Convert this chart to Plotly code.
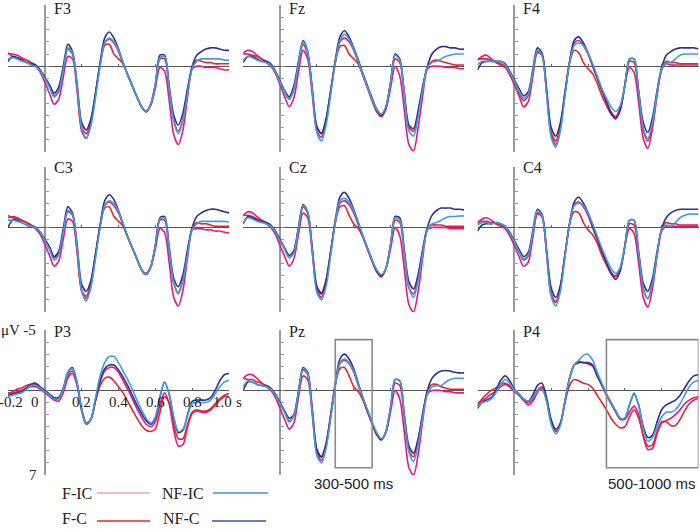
import plotly.graph_objects as go

W, H = 700, 529

# time axis (s), 25 ms sampling
time = [-0.2, -0.175, -0.15, -0.125, -0.1, -0.075, -0.05, -0.025, 0.0, 0.025,
        0.05, 0.075, 0.1, 0.125, 0.15, 0.175, 0.2, 0.225, 0.25, 0.275,
        0.3, 0.325, 0.35, 0.375, 0.4, 0.425, 0.45, 0.475, 0.5, 0.525,
        0.55, 0.575, 0.6, 0.625, 0.65, 0.675, 0.7, 0.725, 0.75, 0.775,
        0.8, 0.825, 0.85, 0.875, 0.9, 0.925, 0.95, 0.975, 1.0]

channels = ['F3', 'Fz', 'F4', 'C3', 'Cz', 'C4', 'P3', 'Pz', 'P4']
conditions = ['F-IC', 'F-C', 'NF-C', 'NF-IC']   # drawing order

# amplitudes in microvolts (negative plotted upward)
f3_fic = [-1.0,-1.0,-0.9,-0.7,-0.5,-0.3,0.0,0.5,1.3,2.2,3.1,2.7,0.9,-0.8,-0.6,2.0,5.3,5.9,4.6,2.3,-0.2,-1.9,-2.2,-1.9,-1.2,-0.2,0.7,1.6,2.5,3.3,3.7,3.2,1.8,0.1,0.4,2.8,5.6,6.4,5.2,2.5,0.2,0.0,0.0,0.1,0.1,0.1,0.2,0.3,0.3]
f3_fc = [-1.1,-0.8,-0.7,-0.6,-0.5,-0.3,-0.1,0.4,1.0,1.6,2.4,2.0,0.3,-1.4,-1.0,1.7,5.0,5.5,4.5,2.3,-0.1,-1.7,-1.8,-1.0,-0.6,-0.2,0.7,1.6,2.5,3.3,3.7,3.1,1.5,-0.6,-0.6,1.8,4.4,5.3,4.3,2.1,0.1,-0.5,-0.4,-0.3,-0.3,-0.2,-0.2,-0.2,-0.2]
f3_nfc = [-0.4,-0.8,-0.7,-0.5,-0.3,-0.2,-0.1,0.3,0.9,1.5,2.2,1.7,0.0,-1.8,-1.2,1.4,4.6,5.2,4.3,2.2,-0.3,-2.3,-2.8,-2.3,-1.4,-0.3,0.7,1.6,2.5,3.3,3.7,3.1,1.5,-0.9,-0.9,1.6,4.0,4.8,3.8,1.8,0.0,-0.9,-1.2,-1.4,-1.5,-1.5,-1.4,-1.3,-1.3]
f3_nfic = [-0.6,-0.7,-0.6,-0.4,-0.3,-0.1,0.0,0.4,1.0,1.7,2.5,2.1,0.3,-1.5,-1.1,1.6,5.0,5.9,4.9,2.6,0.0,-1.9,-2.3,-2.0,-1.3,-0.3,0.7,1.6,2.5,3.3,3.7,3.1,1.5,-0.7,-0.8,1.8,4.5,5.5,4.4,2.2,0.2,-0.4,-0.6,-0.6,-0.6,-0.6,-0.6,-0.5,-0.5]

fz_fic = [-1.1,-1.3,-1.2,-0.9,-0.6,-0.3,0.0,0.6,1.5,2.5,3.3,2.6,0.5,-1.3,-0.6,2.3,5.3,5.8,4.5,2.1,-0.3,-2.0,-2.3,-2.0,-1.3,-0.3,0.8,1.8,2.8,3.7,4.1,3.5,1.8,0.0,0.8,3.6,6.4,6.9,5.0,2.4,0.2,0.0,0.0,0.0,0.1,0.1,0.1,0.2,0.2]
fz_fc = [-1.0,-1.0,-0.9,-0.8,-0.6,-0.4,-0.1,0.5,1.3,2.1,2.7,1.9,-0.1,-1.8,-1.0,2.0,5.0,5.5,4.3,2.0,-0.3,-1.6,-1.7,-1.0,-0.6,-0.2,0.7,1.7,2.8,3.7,4.1,3.4,1.4,-0.6,-0.3,2.3,5.0,5.3,3.8,1.8,0.1,-0.4,-0.5,-0.4,-0.3,-0.2,-0.1,-0.1,-0.1]
fz_nfc = [-0.3,-0.8,-0.8,-0.6,-0.4,-0.4,-0.2,0.4,1.2,2.0,2.5,1.6,-0.4,-2.1,-1.2,1.8,4.9,5.5,4.3,2.0,-0.5,-2.4,-2.9,-2.4,-1.5,-0.5,0.6,1.6,2.6,3.5,4.0,3.3,1.3,-1.0,-0.6,2.2,4.8,5.1,3.6,1.6,0.0,-1.0,-1.4,-1.6,-1.6,-1.5,-1.5,-1.4,-1.4]
fz_nfic = [-0.5,-0.8,-0.7,-0.5,-0.4,-0.3,-0.1,0.5,1.3,2.1,2.7,1.9,-0.2,-2.0,-1.1,2.0,5.4,6.1,4.8,2.3,-0.3,-2.1,-2.6,-2.2,-1.4,-0.4,0.7,1.7,2.7,3.5,3.9,3.3,1.4,-0.9,-0.5,2.4,5.3,5.7,4.1,1.9,0.1,-0.3,-0.4,-0.6,-0.8,-0.9,-1.0,-1.0,-1.0]

f4_fic = [-0.5,-0.8,-0.9,-0.6,-0.3,-0.1,0.1,0.7,1.5,2.4,3.3,2.9,0.9,-1.1,-0.9,2.2,5.6,6.4,5.1,2.3,-0.3,-1.9,-2.1,-1.7,-1.0,0.0,1.0,2.0,2.9,3.7,4.1,3.4,1.6,0.1,0.5,3.0,5.9,6.7,5.1,2.4,0.3,-0.2,-0.1,-0.1,-0.1,-0.1,-0.1,-0.1,-0.1]
f4_fc = [-0.6,-0.6,-0.6,-0.5,-0.4,-0.2,0.0,0.6,1.3,2.1,2.8,2.4,0.6,-1.2,-0.9,2.0,5.4,6.1,4.8,2.2,-0.3,-1.3,-1.1,-0.3,0.2,0.6,1.4,2.4,3.2,3.9,4.2,3.5,1.5,-0.4,-0.3,2.3,5.2,6.1,4.7,2.2,0.2,-0.4,-0.3,-0.3,-0.2,-0.2,-0.2,-0.2,-0.2]
f4_nfc = [0.3,-0.3,-0.4,-0.4,-0.4,-0.4,-0.2,0.4,1.1,1.8,2.4,2.1,0.3,-1.5,-1.1,1.8,5.0,5.7,4.6,2.1,-0.4,-2.1,-2.4,-1.9,-1.1,-0.1,0.9,1.9,2.9,3.8,4.3,3.6,1.6,-0.6,-0.6,2.0,4.6,5.4,4.2,2.0,0.1,-0.9,-1.2,-1.4,-1.5,-1.5,-1.5,-1.5,-1.4]
f4_nfic = [-0.1,-0.4,-0.4,-0.4,-0.4,-0.4,-0.1,0.5,1.2,2.0,2.6,2.3,0.5,-1.3,-0.9,2.2,5.8,6.6,5.3,2.4,-0.3,-1.7,-1.9,-1.7,-1.1,-0.2,0.8,1.8,2.6,3.3,3.7,3.2,1.6,-0.6,-0.6,2.1,5.0,5.9,4.6,2.2,0.2,-0.3,-0.3,-0.6,-0.9,-1.0,-1.0,-1.0,-1.0]

c3_fic = [-0.8,-0.9,-0.8,-0.6,-0.4,-0.2,0.1,0.6,1.4,2.3,3.2,2.8,1.0,-0.7,-0.5,2.0,5.3,5.9,4.7,2.3,-0.1,-1.8,-2.1,-1.8,-1.2,-0.2,0.8,1.7,2.6,3.5,3.9,3.3,1.8,0.1,0.4,2.9,5.8,6.5,5.2,2.5,0.2,0.1,0.1,0.2,0.2,0.3,0.3,0.4,0.45]
c3_fc = [-1.0,-0.8,-0.7,-0.6,-0.4,-0.2,0.0,0.4,1.0,1.7,2.5,2.1,0.3,-1.3,-1.0,1.8,5.2,5.7,4.6,2.3,-0.1,-1.6,-1.7,-0.9,-0.5,-0.1,0.8,1.7,2.6,3.5,3.8,3.2,1.5,-0.6,-0.6,1.9,4.6,5.4,4.3,2.1,0.1,-0.4,-0.3,-0.3,-0.2,-0.1,-0.1,-0.1,-0.1]
c3_nfc = [0.0,-0.6,-0.6,-0.4,-0.2,-0.1,0.0,0.4,1.0,1.6,2.4,2.0,0.1,-1.7,-1.2,1.4,4.7,5.3,4.4,2.2,-0.2,-2.2,-2.7,-2.3,-1.4,-0.3,0.8,1.7,2.6,3.5,3.9,3.3,1.5,-0.8,-0.9,1.6,4.2,4.9,3.9,1.8,0.0,-0.9,-1.2,-1.4,-1.5,-1.5,-1.4,-1.3,-1.2]
c3_nfic = [-0.6,-0.6,-0.5,-0.4,-0.2,-0.1,0.0,0.4,1.1,1.8,2.7,2.3,0.4,-1.4,-1.1,1.6,5.2,6.1,5.0,2.6,0.0,-1.8,-2.2,-2.0,-1.3,-0.3,0.8,1.7,2.6,3.5,3.9,3.3,1.5,-0.7,-0.8,1.8,4.6,5.5,4.4,2.2,0.2,-0.3,-0.5,-0.5,-0.5,-0.5,-0.5,-0.5,-0.45]

cz_fic = [-1.0,-1.3,-1.2,-0.9,-0.6,-0.3,0.0,0.6,1.5,2.4,3.2,2.6,0.6,-1.2,-0.8,2.1,5.2,5.8,4.6,2.1,-0.4,-2.0,-2.2,-1.9,-1.2,-0.2,0.8,1.8,2.8,3.6,4.0,3.4,1.8,0.0,0.7,3.5,6.4,7.0,5.3,2.5,0.2,0.0,0.0,0.0,0.0,0.1,0.1,0.1,0.1]
cz_fc = [-1.0,-1.0,-0.9,-0.7,-0.6,-0.4,-0.1,0.4,1.1,1.8,2.5,2.0,0.1,-1.7,-1.2,1.8,4.9,5.4,4.3,2.0,-0.4,-1.7,-1.8,-1.0,-0.3,0.1,0.8,1.8,2.8,3.7,4.1,3.4,1.4,-0.6,-0.4,2.2,5.0,5.5,4.1,1.9,0.1,-0.2,-0.2,-0.2,-0.1,-0.1,-0.1,-0.1,-0.1]
cz_nfc = [-0.3,-0.9,-0.8,-0.6,-0.5,-0.4,-0.2,0.3,1.0,1.7,2.3,1.9,0.0,-1.9,-1.3,1.7,4.9,5.5,4.4,2.0,-0.6,-2.5,-2.9,-2.4,-1.5,-0.4,0.7,1.7,2.7,3.6,4.0,3.4,1.5,-0.9,-0.8,1.9,4.5,5.1,3.9,1.8,0.0,-1.0,-1.4,-1.6,-1.6,-1.6,-1.5,-1.5,-1.45]
cz_nfic = [-0.4,-0.8,-0.7,-0.5,-0.4,-0.3,-0.1,0.4,1.1,1.8,2.5,2.1,0.1,-1.8,-1.3,1.9,5.4,6.0,4.9,2.3,-0.4,-2.2,-2.4,-2.1,-1.4,-0.4,0.7,1.7,2.7,3.5,3.9,3.4,1.5,-0.8,-0.6,2.2,5.0,5.8,4.4,2.1,0.2,-0.3,-0.4,-0.6,-0.8,-0.9,-0.9,-0.95,-0.95]

c4_fic = [-0.3,-0.7,-0.8,-0.6,-0.3,-0.1,0.1,0.7,1.5,2.4,3.2,2.9,0.9,-1.1,-0.9,2.1,5.4,6.2,5.0,2.3,-0.3,-1.9,-2.1,-1.7,-1.0,0.0,1.0,2.0,2.9,3.7,4.1,3.4,1.6,0.1,0.5,3.0,5.8,6.6,5.1,2.4,0.3,-0.1,-0.1,-0.1,-0.1,-0.1,-0.1,-0.1,-0.1]
c4_fc = [-0.5,-0.5,-0.5,-0.4,-0.3,-0.2,0.0,0.6,1.3,2.0,2.7,2.4,0.6,-1.2,-0.9,2.1,5.6,6.2,4.9,2.2,-0.3,-1.3,-1.2,-0.4,0.2,0.6,1.3,2.3,3.1,3.8,4.0,3.4,1.5,-0.3,-0.2,2.3,5.1,5.9,4.6,2.2,0.2,-0.4,-0.3,-0.3,-0.2,-0.2,-0.2,-0.2,-0.2]
c4_nfc = [0.3,-0.2,-0.3,-0.3,-0.4,-0.3,-0.1,0.4,1.1,1.8,2.4,2.1,0.3,-1.5,-1.1,1.8,5.0,5.8,4.8,2.3,-0.3,-2.1,-2.5,-2.0,-1.2,-0.1,0.9,1.9,2.9,3.8,4.3,3.6,1.6,-0.6,-0.6,2.0,4.6,5.3,4.2,2.0,0.1,-0.8,-1.2,-1.4,-1.5,-1.5,-1.5,-1.5,-1.5]
c4_nfic = [-0.2,-0.4,-0.4,-0.3,-0.4,-0.3,-0.1,0.5,1.2,2.0,2.6,2.3,0.5,-1.4,-1.0,2.1,5.7,6.5,5.3,2.4,-0.3,-1.8,-2.0,-1.8,-1.2,-0.3,0.7,1.7,2.6,3.4,3.8,3.3,1.6,-0.6,-0.6,2.1,5.0,5.9,4.6,2.2,0.2,-0.2,-0.1,-0.4,-0.8,-1.0,-1.1,-1.1,-1.1]

p3_fic = [0.2,0.2,0.1,0.0,-0.2,-0.3,-0.3,-0.1,0.2,0.5,0.8,0.9,0.2,-1.0,-1.4,-0.4,1.7,2.8,2.4,0.8,-0.7,-1.6,-1.9,-1.9,-1.5,-0.8,-0.1,0.7,1.5,2.2,2.8,3.0,2.6,1.2,0.2,1.1,3.3,4.6,4.5,3.0,1.9,1.7,1.8,1.8,1.6,1.2,0.8,0.5,0.5]
p3_fc = [0.3,0.1,-0.1,-0.2,-0.4,-0.5,-0.5,-0.2,0.1,0.4,0.6,0.6,0.0,-1.2,-1.6,-0.6,1.5,2.7,2.4,0.9,-0.4,-1.0,-1.1,-0.8,-0.3,0.2,0.9,1.6,2.3,2.9,3.3,3.4,3.2,1.8,0.5,1.0,2.9,4.0,4.0,2.8,1.8,1.6,1.7,1.7,1.5,1.1,0.7,0.4,0.25]
p3_nfc = [0.4,0.3,0.2,0.1,-0.2,-0.5,-0.6,-0.3,0.0,0.3,0.6,0.6,-0.2,-1.5,-1.9,-0.6,1.6,2.8,2.4,0.8,-0.8,-1.8,-2.1,-2.1,-1.7,-1.1,-0.4,0.4,1.2,1.9,2.5,2.8,2.3,0.6,-0.7,0.3,2.3,3.5,3.3,2.0,0.9,0.8,0.8,0.8,0.6,0.0,-0.8,-1.3,-1.4]
p3_nfic = [0.5,0.4,0.3,0.2,-0.1,-0.4,-0.4,-0.2,0.1,0.4,0.7,0.7,-0.1,-1.4,-1.8,-0.6,1.6,2.8,2.4,0.6,-1.2,-2.3,-2.8,-2.8,-2.3,-1.6,-0.9,-0.1,0.8,1.6,2.3,2.7,2.2,0.5,-0.7,0.3,2.2,3.4,3.2,2.1,1.1,1.0,1.0,1.0,0.8,0.3,-0.3,-0.7,-0.85]

pz_fic = [-1.0,-1.3,-1.3,-1.0,-0.6,-0.3,0.0,0.6,1.5,2.4,3.2,2.7,0.6,-1.2,-0.9,2.0,5.2,5.8,4.6,2.2,-0.4,-2.2,-2.5,-2.2,-1.5,-0.4,0.7,1.7,2.7,3.6,4.0,3.5,1.8,0.0,0.7,3.5,6.4,7.0,5.3,2.5,0.3,0.0,0.0,0.0,0.1,0.1,0.2,0.2,0.2]
pz_fc = [-1.0,-0.9,-0.9,-0.7,-0.6,-0.4,-0.1,0.4,1.1,1.8,2.6,2.1,0.2,-1.7,-1.3,1.7,4.9,5.5,4.4,2.0,-0.5,-1.8,-1.9,-1.2,-0.3,0.1,0.8,1.8,2.8,3.7,4.1,3.4,1.4,-0.6,-0.4,2.3,5.0,5.5,4.1,1.9,0.1,-0.5,-0.5,-0.3,-0.2,-0.1,-0.1,-0.1,-0.1]
pz_nfc = [0.0,-0.7,-0.7,-0.5,-0.4,-0.4,-0.2,0.3,1.0,1.7,2.3,2.0,0.1,-1.9,-1.5,1.5,4.9,5.5,4.4,2.1,-0.6,-2.6,-3.0,-2.6,-1.8,-0.6,0.6,1.7,2.7,3.6,4.1,3.4,1.5,-0.9,-0.8,2.0,4.6,5.2,4.0,1.9,0.0,-1.0,-1.4,-1.6,-1.65,-1.6,-1.5,-1.45,-1.45]
pz_nfic = [-0.3,-0.8,-0.7,-0.5,-0.4,-0.3,-0.1,0.4,1.1,1.8,2.5,2.1,0.2,-1.8,-1.4,1.8,5.4,6.0,4.8,2.3,-0.4,-2.3,-2.6,-2.3,-1.6,-0.5,0.6,1.6,2.6,3.5,4.0,3.4,1.5,-0.9,-0.8,2.2,5.1,5.9,4.5,2.2,0.3,-0.3,-0.4,-0.4,-0.7,-0.9,-1.0,-1.0,-1.0]

p4_fic = [1.3,0.9,0.6,0.3,0.1,-0.3,-0.5,-0.3,0.1,0.4,0.8,1.2,0.9,0.2,-0.2,0.8,2.6,3.4,2.8,0.9,-1.0,-2.1,-2.4,-2.3,-2.2,-2.0,-1.2,-0.4,0.4,1.1,1.8,2.4,2.4,1.8,1.3,2.0,3.8,4.9,4.8,3.6,2.7,2.5,2.3,2.0,1.6,1.1,0.8,0.6,0.5]
p4_fc = [1.2,0.7,0.3,0.0,-0.2,-0.5,-0.6,-0.4,0.0,0.4,0.8,1.0,0.7,0.0,-0.3,0.8,2.6,3.4,2.8,1.0,-0.4,-0.9,-0.8,-0.6,-0.5,-0.2,0.4,1.0,1.6,2.3,2.8,3.1,3.0,2.2,1.6,2.3,3.7,4.6,4.5,3.4,2.6,2.6,2.9,2.9,2.4,1.7,1.1,0.8,0.65]
p4_nfc = [1.5,1.0,0.8,0.6,0.0,-0.8,-1.2,-0.8,-0.1,0.3,0.7,0.9,0.4,-0.4,-0.6,0.6,2.4,3.2,2.7,0.9,-1.0,-2.1,-2.3,-2.3,-2.3,-2.1,-1.2,-0.5,0.3,1.0,1.7,2.3,2.3,1.2,0.3,1.2,3.0,3.9,3.7,2.6,1.6,1.2,1.0,0.8,0.4,-0.2,-0.8,-1.2,-1.3]
p4_nfic = [1.4,1.0,0.9,0.7,0.2,-0.5,-0.9,-0.6,0.0,0.3,0.7,0.9,0.6,0.1,-0.1,0.9,2.8,3.6,2.9,0.9,-1.0,-2.1,-2.5,-2.9,-3.0,-2.5,-1.5,-0.6,0.3,1.0,1.7,2.3,2.3,1.2,0.2,1.2,3.2,4.2,3.9,3.0,2.2,1.8,1.8,1.6,1.1,0.4,-0.3,-0.7,-0.85]

# analysis windows (s) marked on Pz and P4
pz_window = [0.3, 0.5]
p4_window = [0.5, 1.0]

colors = {'F-IC': '#e5168a', 'F-C': '#e3262e', 'NF-C': '#2f2f8f', 'NF-IC': '#3d9fd6'}
legend_colors = {'F-IC': '#f2a7b2', 'F-C': '#e3262e', 'NF-IC': '#3f8fd2', 'NF-C': '#3c4eb0'}

panel_data = [
    [f3_fic, f3_fc, f3_nfc, f3_nfic], [fz_fic, fz_fc, fz_nfc, fz_nfic], [f4_fic, f4_fc, f4_nfc, f4_nfic],
    [c3_fic, c3_fc, c3_nfc, c3_nfic], [cz_fic, cz_fc, cz_nfc, cz_nfic], [c4_fic, c4_fc, c4_nfc, c4_nfic],
    [p3_fic, p3_fc, p3_nfc, p3_nfic], [pz_fic, pz_fc, pz_nfc, pz_nfic], [p4_fic, p4_fc, p4_nfc, p4_nfic],
]
for d in panel_data:
    for s in d:
        if len(s) != len(time):
            raise ValueError('series length mismatch')

# panel geometry (pixels)
col_left = [8, 243.2, 477.5]
col_width = 221
row_top = [5, 167, 330]
row_height = [147, 145, 145]

serif = 'Liberation Serif, Times New Roman, serif'
sans = 'Liberation Sans, Arial, sans-serif'

fig = go.Figure()
layout = dict(width=W, height=H, margin=dict(l=0, r=0, t=0, b=0),
              plot_bgcolor='white', paper_bgcolor='white', showlegend=False)
annotations = []
shapes = []

for i, ch in enumerate(channels):
    r, c = divmod(i, 3)
    n = '' if i == 0 else str(i + 1)
    x0 = col_left[c]
    top = row_top[r]
    h = row_height[r]
    axis_px = x0 + col_width / 6.0
    zero_px = top + h * 5.0 / 12.0

    for cond, series in zip(conditions, panel_data[i]):
        fig.add_trace(go.Scatter(
            x=time, y=series, mode='lines', name=cond,
            line=dict(color=colors[cond], width=1.6, shape='spline', smoothing=0.8),
            xaxis='x' + n, yaxis='y' + n, hoverinfo='skip'))

    layout['xaxis' + n] = dict(
        domain=[x0 / W, (x0 + col_width) / W], range=[-0.2, 1.0],
        anchor='free', position=1 - zero_px / H,
        showgrid=False, showline=False, showticklabels=False,
        ticks='inside', tickvals=[0.2, 0.4, 0.6, 0.8], ticklen=2, tickcolor='#666',
        zeroline=True, zerolinecolor='#9a9a9a', zerolinewidth=1.6)
    layout['yaxis' + n] = dict(
        domain=[1 - (top + h) / H, 1 - top / H], range=[7, -5],
        anchor='free', position=axis_px / W,
        showgrid=False, showline=False, showticklabels=False,
        ticks='inside', tick0=-5, dtick=1, ticklen=3, tickcolor='#9a9a9a', tickwidth=1.2,
        zeroline=True, zerolinecolor='#555', zerolinewidth=1)

    # channel name just right of the vertical axis, near its top
    annotations.append(dict(x=(axis_px + 7) / W, y=1 - (top + 1) / H if r > 0 else 1.0,
                            xref='paper', yref='paper', text=ch,
                            xanchor='left', yanchor='middle' if r > 0 else 'top',
                            yshift=0 if r > 0 else 2,
                            showarrow=False, font=dict(family=serif, size=16, color='#222')))

# time labels under P3
for tv, tl, dx in [(-0.2, '-0.2', 3), (0, '0', -10), (0.2, '0.2', 0), (0.4, '0.4', 0),
                   (0.6, '0.6', 0), (0.8, '0.8', 0), (1.0, '1.0', -7)]:
    annotations.append(dict(x=tv, y=0, xref='x7', yref='y7', text=tl, xanchor='center',
                            yanchor='middle', xshift=dx, yshift=-12, showarrow=False,
                            font=dict(family=serif, size=15, color='#222')))
annotations.append(dict(x=1.0, y=0, xref='x7', yref='y7', text='s', xanchor='center',
                        yanchor='middle', xshift=10, yshift=-12, showarrow=False,
                        font=dict(family=serif, size=15, color='#222')))
annotations.append(dict(x=0, y=-5, xref='x7', yref='y7', text='\u03bcV -5', xanchor='right',
                        yanchor='middle', xshift=-7, showarrow=False,
                        font=dict(family=serif, size=15, color='#222')))
annotations.append(dict(x=0, y=7, xref='x7', yref='y7', text='7', xanchor='right',
                        yanchor='middle', xshift=-6, showarrow=False,
                        font=dict(family=serif, size=15, color='#222')))

# analysis windows
for n, win, label in [('8', pz_window, '300-500 ms'), ('9', p4_window, '500-1000 ms')]:
    shapes.append(dict(type='rect', xref='x' + n, yref='y' + n, x0=win[0], x1=win[1],
                       y0=-4.2, y1=6.4, line=dict(color='#8a8a8a', width=1.6)))
    annotations.append(dict(x=(win[0] + win[1]) / 2, y=6.4, xref='x' + n, yref='y' + n,
                            text=label, xanchor='center', yanchor='top', yshift=-5,
                            showarrow=False, font=dict(family=sans, size=15, color='#222')))

# legend: (name, text x, line x0, line x1, row y) in pixels
legend_items = [('F-IC', 60, 97, 150, 493), ('NF-IC', 160, 213, 268, 493),
                ('F-C', 60, 97, 150, 521), ('NF-C', 161, 212, 266, 521)]
for name, tx, lx0, lx1, ly in legend_items:
    bottom_row = ly > 510
    annotations.append(dict(x=tx / W, y=0 if bottom_row else 1 - ly / H,
                            xref='paper', yref='paper', text=name,
                            xanchor='left', yanchor='bottom' if bottom_row else 'middle',
                            showarrow=False, font=dict(family=serif, size=16, color='#222')))
    shapes.append(dict(type='line', xref='paper', yref='paper', x0=lx0 / W, x1=lx1 / W,
                       y0=1 - ly / H, y1=1 - ly / H,
                       line=dict(color=legend_colors[name], width=1.6)))

layout['annotations'] = annotations
layout['shapes'] = shapes
fig.update_layout(**layout)

# drop the default page margin so the figure sits at the window's corner
fig.write_html('out.html', config={'displayModeBar': False},
               post_script="document.body.style.margin='0';document.body.style.overflow='hidden';")
